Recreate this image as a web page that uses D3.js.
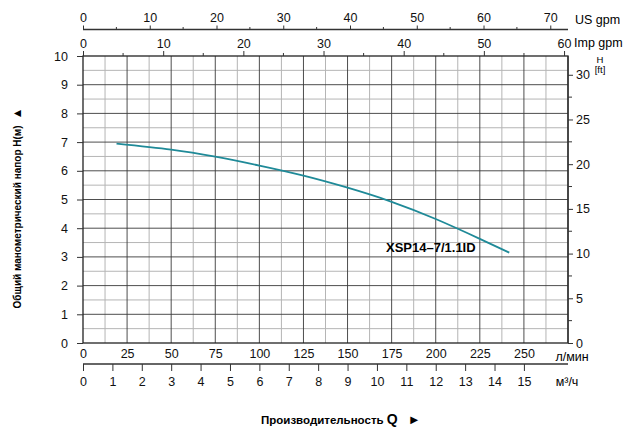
<!DOCTYPE html>
<html>
<head>
<meta charset="utf-8">
<script src="https://cdn.jsdelivr.net/npm/d3@7"></script>
<style>
  body { margin: 0; background: #fff; }
  svg { font-family: "Liberation Sans", Arial, sans-serif; }
</style>
</head>
<body>
<div id="chart"></div>
<script>
// Curve data: flow in l/min, head in m
var flowLpm = [19, 50, 75, 100, 125, 150, 175, 200, 225, 241.7];
var headM = [6.95, 6.74, 6.49, 6.18, 5.83, 5.41, 4.92, 4.32, 3.63, 3.15];
var curveName = "XSP14–7/1.1ID";

// Tick labels
var lpmTicks = [0, 25, 50, 75, 100, 125, 150, 175, 200, 225, 250];
var m3hTicks = [0, 1, 2, 3, 4, 5, 6, 7, 8, 9, 10, 11, 12, 13, 14, 15];
var usTicks = [0, 10, 20, 30, 40, 50, 60, 70];
var impTicks = [0, 10, 20, 30, 40, 50, 60];
var headTicks = [0, 1, 2, 3, 4, 5, 6, 7, 8, 9, 10];
var ftTicks = [0, 5, 10, 15, 20, 25, 30];

var width = 640, height = 438;
var plot = { left: 83, right: 568, top: 56, bottom: 343 };

var svg = d3.select("#chart").append("svg")
    .attr("width", width)
    .attr("height", height);

// Scales
var x = d3.scaleLinear().domain([0, 275]).range([plot.left, plot.right]);
var y = d3.scaleLinear().domain([0, 10]).range([plot.bottom, plot.top]);
var yFt = d3.scaleLinear().domain([0, 32.1]).range([plot.bottom, plot.top]);
var xUS = d3.scaleLinear().domain([0, 275 / 3.785]).range([plot.left, plot.right]);
var xImp = d3.scaleLinear().domain([0, 275 / 4.546]).range([plot.left, plot.right]);
var xM3 = d3.scaleLinear().domain([0, 275 / 16.667]).range([plot.left, plot.right]);

// Grid - light lines at half steps
var g = svg.append("g");
g.selectAll(".vminor").data(d3.range(12.5, 275, 25)).enter().append("line")
    .attr("x1", d => x(d)).attr("x2", d => x(d))
    .attr("y1", plot.top).attr("y2", plot.bottom)
    .attr("stroke", "#b5b5b5").attr("stroke-width", 1);
g.selectAll(".hminor").data(d3.range(0.5, 10, 1)).enter().append("line")
    .attr("y1", d => y(d)).attr("y2", d => y(d))
    .attr("x1", plot.left).attr("x2", plot.right)
    .attr("stroke", "#b5b5b5").attr("stroke-width", 1);
// Grid - dark lines
g.selectAll(".vmajor").data(d3.range(25, 275, 25)).enter().append("line")
    .attr("x1", d => x(d)).attr("x2", d => x(d))
    .attr("y1", plot.top).attr("y2", plot.bottom)
    .attr("stroke", "#3a3a3a").attr("stroke-width", 0.9);
g.selectAll(".hmajor").data(d3.range(1, 10, 1)).enter().append("line")
    .attr("y1", d => y(d)).attr("y2", d => y(d))
    .attr("x1", plot.left).attr("x2", plot.right)
    .attr("stroke", "#3a3a3a").attr("stroke-width", 0.9);

// Plot frame
svg.append("rect")
    .attr("x", plot.left).attr("y", plot.top)
    .attr("width", plot.right - plot.left).attr("height", plot.bottom - plot.top)
    .attr("fill", "none").attr("stroke", "#222").attr("stroke-width", 1.3);

function styleAxis(sel) {
    sel.selectAll("text").attr("font-size", 12.5).attr("fill", "#111");
    sel.selectAll("line").attr("stroke", "#333");
    sel.select(".domain").attr("stroke", "#333").attr("stroke-width", 1.3);
}

// Left axis (m)
svg.append("g")
    .attr("transform", `translate(${plot.left},0)`)
    .call(d3.axisLeft(y).tickValues(headTicks).tickSize(6).tickPadding(9).tickFormat(d3.format("d")))
    .call(styleAxis)
    .call(s => s.select(".domain").remove());

// Right axis (ft)
var ftAxis = svg.append("g")
    .attr("transform", `translate(${plot.right},0)`)
    .call(d3.axisRight(yFt).tickValues(ftTicks).tickSize(5).tickPadding(3).tickFormat(d3.format("d")))
    .call(styleAxis);
ftAxis.select(".domain").attr("d", `M0,${plot.top}V${plot.bottom}`);
ftAxis.selectAll(".minor").data(d3.range(2.5, 32, 5)).enter().append("line")
    .attr("x1", 0).attr("x2", 4)
    .attr("y1", d => yFt(d)).attr("y2", d => yFt(d))
    .attr("stroke", "#333");
svg.append("text").attr("x", 600).attr("y", 63).attr("text-anchor", "middle")
    .attr("font-size", 9.5).text("H");
svg.append("text").attr("x", 600).attr("y", 73).attr("text-anchor", "middle")
    .attr("font-size", 9.5).text("[ft]");

// Top axis - Imp gpm (on the plot frame)
var impAxis = svg.append("g")
    .attr("transform", `translate(0,${plot.top})`)
    .call(d3.axisTop(xImp).tickValues(impTicks).tickSize(5).tickPadding(3).tickFormat(d3.format("d")))
    .call(styleAxis);
impAxis.select(".domain").remove();
impAxis.selectAll(".minor").data(d3.range(5, 60, 10)).enter().append("line")
    .attr("x1", d => xImp(d)).attr("x2", d => xImp(d))
    .attr("y1", 0).attr("y2", -3).attr("stroke", "#333");
svg.append("text").attr("x", 574).attr("y", 47).attr("font-size", 12.5).text("Imp gpm");

// Top axis - US gpm
var usAxis = svg.append("g")
    .attr("transform", `translate(0,29.5)`)
    .call(d3.axisTop(xUS).tickValues(usTicks).tickSize(4).tickPadding(4).tickFormat(d3.format("d")))
    .call(styleAxis);
usAxis.select(".domain").attr("d", `M${plot.left},0H${plot.right}`);
usAxis.selectAll(".minor").data(d3.range(5, 75, 10)).enter().append("line")
    .attr("x1", d => xUS(d)).attr("x2", d => xUS(d))
    .attr("y1", 0).attr("y2", -2.5).attr("stroke", "#333");
svg.append("text").attr("x", 575).attr("y", 24).attr("font-size", 12.5).text("US gpm");

// Bottom axis - l/min (labels only)
var lpmAxis = svg.append("g")
    .attr("transform", `translate(0,${plot.bottom})`)
    .call(d3.axisBottom(x).tickValues(lpmTicks).tickSize(0).tickPadding(6).tickFormat(d3.format("d")))
    .call(styleAxis);
lpmAxis.select(".domain").remove();
svg.append("text").attr("x", 572).attr("y", 361).attr("text-anchor", "middle")
    .attr("font-size", 12.5).text("л/мин");

// Bottom axis - m3/h
var m3Axis = svg.append("g")
    .attr("transform", `translate(0,364)`)
    .call(d3.axisBottom(xM3).tickValues(m3hTicks).tickSize(7).tickPadding(6).tickFormat(d3.format("d")))
    .call(styleAxis);
m3Axis.select(".domain").attr("d", `M${plot.left},0H${plot.right}`);
svg.append("text").attr("x", 567).attr("y", 386).attr("text-anchor", "middle")
    .attr("font-size", 12.5).text("м³/ч");

// Performance curve
var points = flowLpm.map((q, i) => [q, headM[i]]);
var line = d3.line()
    .x(d => x(d[0]))
    .y(d => y(d[1]))
    .curve(d3.curveNatural);
svg.append("path")
    .datum(points)
    .attr("d", line)
    .attr("fill", "none")
    .attr("stroke", "#1f8a98")
    .attr("stroke-width", 1.8);

svg.append("text")
    .attr("x", 386).attr("y", 252)
    .attr("font-size", 13).attr("font-weight", "bold")
    .text(curveName);

// Axis titles
var yt = svg.append("text")
    .attr("transform", "translate(21,208) rotate(-90)")
    .attr("text-anchor", "middle")
    .attr("font-size", 10).attr("font-weight", "bold");
yt.append("tspan").text("Общий манометрический напор H(м)");
yt.append("tspan").attr("dx", 6).attr("font-size", 12).text("▲");

var xt = svg.append("text")
    .attr("x", 261).attr("y", 424)
    .attr("font-size", 11.5).attr("font-weight", "bold");
xt.append("tspan").text("Производительность ");
xt.append("tspan").attr("font-size", 14).text("Q");
xt.append("tspan").attr("dx", 10).attr("font-size", 13).text("►");
</script>
</body>
</html>
